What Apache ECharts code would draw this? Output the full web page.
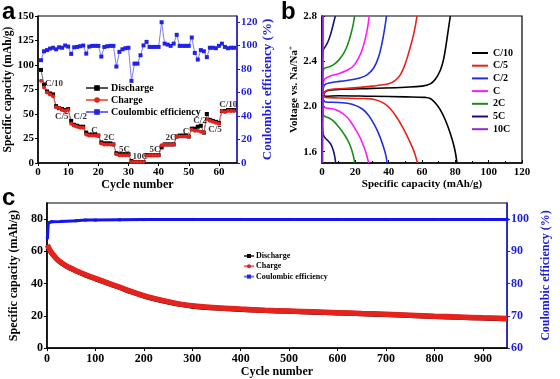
<!DOCTYPE html>
<html><head><meta charset="utf-8">
<script src="https://cdn.jsdelivr.net/npm/echarts@6/dist/echarts.min.js"></script>
<style>html,body{margin:0;padding:0;background:#fff}#c{width:560px;height:379px}</style>
</head><body><div id="c"></div>
<script>
// ---------- Panel a : rate capability ----------
const dischargeA = [95,80,73,71,70, 58,56,55,54,55, 43,39,38,37,37, 31,29,29,29,28, 21,20,20,20,19, 10,9,9,9,9, 2,1,1,1,1, 8,8,8,8,8, 16,19,19,19,19, 27,28,28,28,27, 35,35,37,38,31, 50,44,43,42,41, 53,53,54,54,54];
const chargeA    = [84,77,72,70,68, 57,56,54,53,54, 40,38,37,36,36, 29,28,28,28,28, 20,19,19,19,19, 9,8,8,8,8, 1,1,1,1,1, 8,8,8,8,8, 18,19,19,19,19, 27,27,27,27,27, 34,33,33,32,31, 45,43,42,41,40, 53,52,53,53,53];
const ceA        = [87.4,95,96,97.3,98,96.7,98.4,98,99.9,99, 92.8,98.4,98.7,99.3,99.9,93,99,99.6,99.6,99.6, 90.5,98.7,99.3,99.6,99.6,82,94.5,96.7,97.6,98, 69.8,84.5,84.5,91.6,100,103,98.7,98.7,98.7,98.7, 119.7,101.5,100.7,99.6,101.5,109,99.6,99.6,99.6,99.6, 106.7,93.6,88,96,95,90,98,98,97.6,99.6, 101.5,98.7,97.6,98,98];
const rateText  = ['C/10','C/5','C/2','C','2C','5C','10C','5C','2C','C','C/2','C/5','C/10'];
const rateCycle = [5.3,7.9,14,18.7,23.6,28.7,33.9,38.8,44.1,49.1,53.7,58.7,63.1];
const rateCap   = [81,47,47,33.4,25.5,13.7,6.1,13.7,25.5,32.3,43.6,34,60];
const ticksA_x = [0,10,20,30,40,50,60];
const ticksA_y2 = [0,20,40,60,80,100,120];

// ---------- Panel b : voltage profiles [capacity, voltage] ----------
const rateNames = ['C/10','C/5','C/2','C','2C','5C','10C'];
const c10Charge = [[0.3,2.05],[1,2.11],[3,2.14],[10,2.15],[30,2.16],[50,2.17],[60,2.18],[65,2.2],[68,2.24],[71,2.32],[73,2.42],[74.5,2.55],[75.8,2.68],[77,2.8]];
const c10Dis    = [[0.3,2.12],[2,2.09],[10,2.095],[30,2.09],[50,2.085],[62,2.08],[65,2.07],[68,2.03],[71,1.97],[74,1.88],[77,1.76],[79.5,1.63],[81,1.5]];
const c5Charge  = [[0.5,2.08],[2,2.13],[5,2.15],[15,2.16],[30,2.18],[35,2.19],[40,2.2],[44,2.23],[47,2.28],[50,2.38],[52.5,2.5],[55,2.64],[57,2.8]];
const c5Dis     = [[0.5,2.1],[2,2.08],[10,2.075],[25,2.07],[32,2.06],[37,2.03],[41,1.98],[45,1.9],[49,1.8],[52,1.71],[55,1.61],[57.3,1.5]];
const c2Charge  = [[0.5,2.12],[1.5,2.19],[5,2.21],[15,2.23],[22,2.25],[27,2.28],[31,2.34],[34,2.44],[36,2.56],[37.5,2.68],[38.7,2.8]];
const c2Dis     = [[0.5,2.08],[2,2.04],[10,2.035],[18,2.02],[24,1.98],[28,1.92],[31,1.85],[34,1.76],[36.5,1.66],[38.3,1.57],[39,1.5]];
const c1Charge  = [[0.5,2.18],[1.5,2.24],[5,2.27],[10,2.29],[15,2.32],[19,2.36],[22,2.43],[24.5,2.52],[26.3,2.62],[27.5,2.71],[28.3,2.8]];
const c1Dis     = [[0.5,2.02],[1.5,1.99],[6,1.98],[10,1.96],[14,1.92],[17,1.87],[20,1.8],[23,1.72],[25.5,1.63],[27,1.56],[28,1.5]];
const c2cCharge = [[0.5,2.28],[1,2.33],[4,2.35],[7,2.37],[10,2.41],[13,2.47],[15.5,2.55],[17.5,2.65],[18.8,2.73],[19.5,2.8]];
const c2cDis    = [[0.5,1.96],[1,1.92],[4,1.9],[7,1.87],[10,1.82],[13,1.76],[15.5,1.7],[17.5,1.63],[19,1.55],[19.6,1.5]];
const c5cCharge = [[0.3,2.42],[0.8,2.5],[2,2.53],[3.5,2.57],[5,2.63],[6.3,2.7],[7.3,2.76],[8,2.8]];
const c5cDis    = [[0.3,1.82],[0.8,1.75],[2,1.72],[4,1.69],[5.5,1.66],[6.8,1.61],[7.6,1.56],[8.2,1.5]];
const c10cCharge= [[0.3,1.5],[0.4,1.9],[0.6,2.1],[0.5,2.4],[0.6,2.8]];
const c10cDis   = [[0.5,2.8],[0.4,2.3],[0.7,2.05],[0.3,1.8],[0.2,1.5]];
const ticksB_y = [1.6,2.0,2.4,2.8];

// ---------- Panel c : long cycling [cycle, value] ----------
const chargeC = [[1,64],[5,61.5],[10,59],[20,55.5],[30,53],[40,51],[50,49.5],[60,48],[80,45.5],[100,43.2],[125,40.5],[150,37.8],[175,35],[200,32.5],[225,30.5],[250,28.8],[275,27.3],[300,26.2],[350,25],[400,24.2],[450,23.5],[500,23],[550,22.5],[600,22],[650,21.5],[700,21],[750,20.4],[800,19.8],[850,19.3],[900,18.8],[950,18.4]];
const dischargeC = [[1,60],[5,61],[10,58.8],[20,55.3],[30,52.8],[40,50.8],[50,49.3],[60,47.8],[80,45.3],[100,43],[125,40.3],[150,37.6],[175,34.8],[200,32.3],[225,30.3],[250,28.6],[275,27.1],[300,26],[350,24.8],[400,24],[450,23.3],[500,22.8],[550,22.3],[600,21.8],[650,21.3],[700,20.8],[750,20.2],[800,19.6],[850,19.1],[900,18.6],[950,18.2]];
const ceC = [[1,94.2],[3,98.8],[10,99.2],[30,99.3],[60,99.5],[80,99.7],[100,99.7],[150,99.8],[200,99.85],[300,99.9],[400,99.9],[500,99.9],[600,99.9],[700,99.9],[800,99.9],[900,99.9],[950,99.9]];
const ticksC_x = [0,100,200,300,400,500,600,700,800,900];
const ticksC_y = [0,20,40,60,80];
const ticksC_y2 = [60,70,80,90,100];

// ---------- styling ----------
const F = 'Liberation Serif';
const BLUE = '#1e1ed8', RED = '#e5221c';
const lbl = (size, color) => ({fontFamily:F, fontWeight:'bold', fontSize:size, color:color||'#000'});
const nm = (size, color) => ({fontFamily:F, fontWeight:'bold', fontSize:size, color:color||'#000'});
const noSplit = {show:false};

const chart = echarts.init(document.getElementById('c'), null, {renderer:'canvas'});

const rateColors = ['#000000', RED, '#1f2fe0', '#ff1aff', '#1a8c1a', '#14147a', '#8a2be2'];
const bSets = [[c10Charge,c10Dis],[c5Charge,c5Dis],[c2Charge,c2Dis],[c1Charge,c1Dis],[c2cCharge,c2cDis],[c5cCharge,c5cDis],[c10cCharge,c10cDis]];
const bSeries = [];
bSets.forEach((pair, i) => {
  pair.forEach(d => bSeries.push({
    type:'line', name:rateNames[i], xAxisIndex:1, yAxisIndex:2, data:d, smooth:0.4,
    symbol:'none', lineStyle:{color:rateColors[i], width:1.6}, itemStyle:{color:rateColors[i]}, z:3
  }));
});

const option = {
  animation:false,
  backgroundColor:'#fff',
  grid:[
    {left:38, top:16, width:199, height:147, show:true, borderColor:'#000', borderWidth:1},
    {left:322, top:16, width:200, height:147, show:true, borderColor:'#000', borderWidth:1.2},
    {left:39, top:203, width:483, height:146, show:true, borderColor:'#000', borderWidth:1.2}
  ],
  xAxis:[
    {gridIndex:0, type:'value', min:0, max:66,
     axisLabel:{customValues:ticksA_x, margin:4, ...lbl(11)},
     axisTick:{customValues:ticksA_x, length:3, lineStyle:{color:'#000'}},
     axisLine:{lineStyle:{color:'#000', width:1.5}}, splitLine:noSplit,
     name:'Cycle number', nameLocation:'middle', nameGap:16, nameTextStyle:nm(12)},
    {gridIndex:1, type:'value', min:0, max:120, interval:20,
     axisLabel:{margin:4, ...lbl(11)},
     axisTick:{inside:true, length:3, lineStyle:{color:'#000'}},
     minorTick:{show:true, splitNumber:2, length:2, lineStyle:{color:'#000'}},
     axisLine:{lineStyle:{color:'#000', width:1.5}}, splitLine:noSplit,
     name:'Specific capacity (mAh/g)', nameLocation:'middle', nameGap:16, nameTextStyle:nm(11)},
    {gridIndex:2, type:'value', min:0, max:950, interval:100,
     axisLabel:{customValues:ticksC_x, margin:5, ...lbl(12)},
     axisTick:{customValues:ticksC_x, length:3, lineStyle:{color:'#000'}},
     axisLine:{lineStyle:{color:'#000', width:1.5}}, splitLine:noSplit,
     name:'Cycle number', nameLocation:'middle', nameGap:17, nameTextStyle:nm(12)}
  ],
  yAxis:[
    {gridIndex:0, type:'value', min:0, max:150, interval:25,
     axisLabel:{margin:4, ...lbl(11)},
     axisTick:{length:3, lineStyle:{color:'#000'}},
     axisLine:{lineStyle:{color:'#000', width:1.5}}, splitLine:noSplit,
     name:'Specific capacity (mAh/g)', nameLocation:'middle', nameGap:22, nameTextStyle:nm(11.5)},
    {gridIndex:0, type:'value', position:'right', min:0, max:125,
     axisLabel:{customValues:ticksA_y2, margin:4, ...lbl(11, BLUE)},
     axisTick:{customValues:ticksA_y2, length:3, lineStyle:{color:BLUE}},
     axisLine:{show:true, lineStyle:{color:BLUE, width:1.5}}, splitLine:noSplit,
     name:'Coulombic efficiency (%)', nameLocation:'middle', nameGap:22, nameRotate:90, nameTextStyle:nm(13, BLUE)},
    {gridIndex:1, type:'value', min:1.5, max:2.8,
     axisLabel:{customValues:ticksB_y, margin:5, formatter:v=>v.toFixed(1), ...lbl(11)},
     axisTick:{customValues:ticksB_y, inside:true, length:3, lineStyle:{color:'#000'}},
     axisLine:{lineStyle:{color:'#000', width:1.5}}, splitLine:noSplit,
     name:'Voltage vs. Na/Na{s|+}', nameLocation:'middle', nameGap:20,
     nameTextStyle:{...nm(11), rich:{s:{fontFamily:F, fontWeight:'bold', fontSize:7, verticalAlign:'top', padding:[0,0,6,0]}}}},
    {gridIndex:2, type:'value', min:0, max:90,
     axisLabel:{customValues:ticksC_y, margin:4, ...lbl(12)},
     axisTick:{customValues:ticksC_y, length:3, lineStyle:{color:'#000'}},
     axisLine:{lineStyle:{color:'#000', width:1.5}}, splitLine:noSplit,
     name:'Specific capacity (mAh/g)', nameLocation:'middle', nameGap:22, nameTextStyle:nm(12)},
    {gridIndex:2, type:'value', position:'right', min:60, max:105,
     axisLabel:{customValues:ticksC_y2, margin:4, ...lbl(12, BLUE)},
     axisTick:{customValues:ticksC_y2, length:3, lineStyle:{color:BLUE}},
     axisLine:{show:true, lineStyle:{color:BLUE, width:1.5}}, splitLine:noSplit,
     name:'Coulombic efficiency (%)', nameLocation:'middle', nameGap:26, nameRotate:90, nameTextStyle:nm(12, BLUE)}
  ],
  legend:[
    {left:85, top:83, padding:0, orient:'vertical', itemWidth:22, itemHeight:7, itemGap:2,
     data:['Discharge','Charge','Coulombic efficiency'], textStyle:{...nm(10), padding:[0,0,0,-2]}, selectedMode:false},
    {left:472, top:48, padding:0, orient:'vertical', itemWidth:16, itemHeight:2, itemGap:2.7, icon:'rect',
     data:rateNames, textStyle:nm(10), selectedMode:false},
    {left:243, top:252, padding:0, orient:'vertical', itemWidth:10, itemHeight:5, itemGap:2.3,
     data:['Discharge','Charge','Coulombic efficiency'], textStyle:{...nm(8), padding:[0,0,0,-3]}, selectedMode:false}
  ],
  graphic:[
    {type:'text', left:2, top:0, style:{text:'a', font:'bold 24px "Liberation Sans"', fill:'#000'}},
    {type:'text', left:281, top:0, style:{text:'b', font:'bold 24px "Liberation Sans"', fill:'#000'}},
    {type:'text', left:2, top:186, style:{text:'c', font:'bold 24px "Liberation Sans"', fill:'#000'}}
  ],
  series:[
    {type:'line', name:'Coulombic efficiency', xAxisIndex:0, yAxisIndex:1,
     data:ceA.map((v,i)=>[i+1,v]), symbol:'rect', symbolSize:4,
     lineStyle:{color:'#6f6ff0', width:0.9}, itemStyle:{color:'#2222e6'}},
    {type:'line', name:'Discharge', xAxisIndex:0, yAxisIndex:0,
     data:dischargeA.map((v,i)=>[i+1,v]), symbol:'rect', symbolSize:4,
     lineStyle:{color:'#555', width:0.9}, itemStyle:{color:'#000'}},
    {type:'line', name:'Charge', xAxisIndex:0, yAxisIndex:0,
     data:chargeA.map((v,i)=>[i+1,v]), symbol:'circle', symbolSize:4,
     lineStyle:{color:'#f06a66', width:0.9}, itemStyle:{color:RED}},
    {type:'scatter', name:'rates', xAxisIndex:0, yAxisIndex:0, symbolSize:1,
     itemStyle:{color:'rgba(0,0,0,0)'}, silent:true,
     data:rateText.map((t,i)=>[rateCycle[i], rateCap[i], t]),
     label:{show:true, position:'inside', formatter:p=>p.data[2], ...nm(9)}, z:5},
    ...bSeries,
    {type:'line', name:'Discharge', xAxisIndex:2, yAxisIndex:3, data:dischargeC, smooth:0.3,
     symbol:'none', lineStyle:{color:'#000', width:5}, itemStyle:{color:'#000'}},
    {type:'line', name:'Charge', xAxisIndex:2, yAxisIndex:3, data:chargeC, smooth:0.3,
     symbol:'none', lineStyle:{color:RED, width:5.5}, itemStyle:{color:RED}},
    {type:'line', name:'Coulombic efficiency', xAxisIndex:2, yAxisIndex:4, data:ceC,
     symbol:'rect', symbolSize:3, showSymbol:true,
     lineStyle:{color:'#1414ee', width:3}, itemStyle:{color:'#1414ee'}}
  ]
};
chart.setOption(option);
</script></body></html>
